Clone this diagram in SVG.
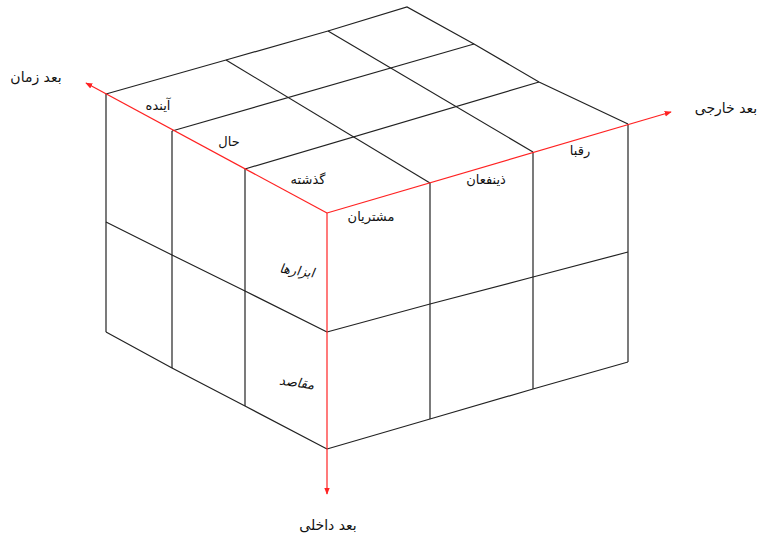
<svg xmlns="http://www.w3.org/2000/svg" width="761" height="536" viewBox="0 0 761 536">
<defs>
<style>
.e{fill:none;stroke:#222;stroke-width:1.2;stroke-linejoin:miter}
.ax{fill:none;stroke:#f22;stroke-width:1.2}
.t{font-family:"DejaVu Sans","Noto Sans",sans-serif;font-size:13px;fill:#111;text-anchor:middle}
.a{font-size:14px}
.i{font-style:italic}
</style>
<marker id="ah" viewBox="0 0 10 10" refX="9" refY="5" markerWidth="7" markerHeight="7" markerUnits="userSpaceOnUse" orient="auto">
<path d="M0,1 L10,5 L0,9 z" fill="#f22"/>
</marker>
</defs>
<rect width="761" height="536" fill="#fff"/>
<g id="cube">
<g id="top-face">
<polyline class="e" points="106,94 226,60 328,31 407,7 474,44 539,82 628,124"/>
<line class="e" x1="226" y1="60" x2="430" y2="183"/>
<line class="e" x1="328" y1="31" x2="533" y2="152"/>
<line class="e" x1="172" y1="131" x2="474" y2="44"/>
<line class="e" x1="245" y1="169" x2="539" y2="82"/>
</g>
<g id="left-face">
<line class="e" x1="106" y1="94" x2="106" y2="332"/>
<line class="e" x1="172" y1="131" x2="172" y2="368"/>
<line class="e" x1="245" y1="169" x2="245" y2="406"/>
<polyline class="e" points="106,222 172,255 245,291 327,332"/>
<polyline class="e" points="106,332 172,368 245,406 327,449"/>
</g>
<g id="right-face">
<line class="e" x1="430" y1="183" x2="430" y2="419"/>
<line class="e" x1="533" y1="152" x2="533" y2="389"/>
<line class="e" x1="628" y1="124" x2="628" y2="362"/>
<polyline class="e" points="327,332 430,304 533,277 628,252"/>
<polyline class="e" points="327,449 430,419 533,389 628,362"/>
</g>
</g>
<g id="connectors">
<line class="ax" x1="327" y1="213" x2="86" y2="83" marker-end="url(#ah)"/>
<line class="ax" x1="327" y1="213" x2="671" y2="112" marker-end="url(#ah)"/>
<line class="ax" x1="327" y1="213" x2="327" y2="494" marker-end="url(#ah)"/>
</g>
<g id="labels">
<text class="t a" x="36" y="82">بعد زمان</text>
<text class="t a" x="726" y="113">بعد خارجی</text>
<text class="t a" x="328" y="530">بعد داخلی</text>
<text class="t" x="158" y="110">آینده</text>
<text class="t" x="229" y="146">حال</text>
<text class="t" x="308" y="184">گذشته</text>
<text class="t" x="371" y="221">مشتریان</text>
<text class="t" x="486" y="184">ذینفعان</text>
<text class="t" x="580" y="155">رقبا</text>
<text class="t i" x="297" y="275" transform="rotate(8 297 270)">ابزارها</text>
<text class="t i" x="297" y="387" transform="rotate(8 297 381)">مقاصد</text>
</g>
</svg>
